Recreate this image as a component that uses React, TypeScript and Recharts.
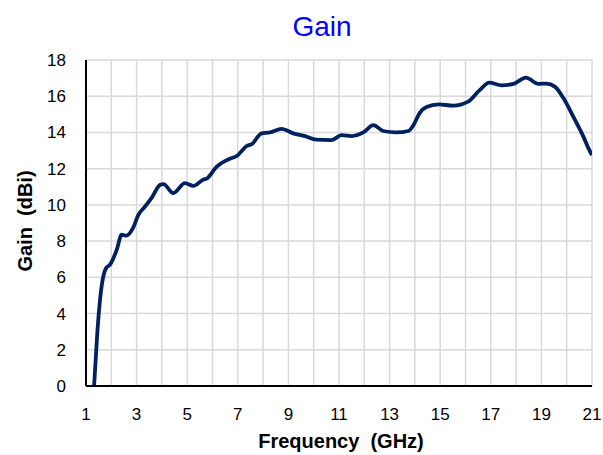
import React from 'react';
import { LineChart, Line, XAxis, YAxis, CartesianGrid } from 'recharts';

const freq = [
  1.32, 1.45, 1.58, 1.79, 1.95, 2.21, 2.41, 2.6, 2.85, 3.07, 3.33, 3.6, 3.92, 4.06,
  4.45, 4.91, 5.24, 5.64, 5.77, 6.16, 6.69, 6.96, 7.35, 7.55, 7.94, 8.27, 8.73,
  9.19, 9.66, 10.1, 10.71, 11.1, 11.5, 11.96, 12.36, 12.75, 13.28, 13.74, 13.94,
  14.2, 14.46, 14.93, 15.52, 16.1, 16.57, 16.94, 17.43, 17.89, 18.39, 18.88,
  19.2, 19.53, 19.87, 20.26, 20.66, 20.86, 21.0,
];

const gain = [
  0, 3.0, 5.1, 6.5, 6.7, 7.5, 8.35, 8.3, 8.7, 9.45, 9.9, 10.4, 11.1, 11.15,
  10.65, 11.2, 11.05, 11.4, 11.45, 12.1, 12.55, 12.7, 13.25, 13.35, 13.95, 14.0, 14.2,
  13.95, 13.8, 13.6, 13.58, 13.85, 13.8, 14.0, 14.4, 14.08, 14.0, 14.08, 14.4,
  15.1, 15.4, 15.55, 15.48, 15.7, 16.35, 16.75, 16.6, 16.68, 17.03, 16.68,
  16.7, 16.53, 15.9, 14.87, 13.77, 13.12, 12.75,
];

const xTicks = [1, 3, 5, 7, 9, 11, 13, 15, 17, 19, 21];
const yTicks = [0, 2, 4, 6, 8, 10, 12, 14, 16, 18];
const xGrid = Array.from({ length: 21 }, (_, i) => i + 1);

const data = freq.map((f, i) => ({ f, g: gain[i] }));

const tickStyle = { fill: '#000', fontSize: 17, fontFamily: 'Liberation Sans, Arial, sans-serif' };
const labelStyle: React.CSSProperties = {
  position: 'absolute',
  fontFamily: 'Liberation Sans, Arial, sans-serif',
  fontWeight: 700,
  fontSize: 20,
  whiteSpace: 'pre',
  color: '#000',
};

export default function App() {
  return (
    <div style={{ position: 'absolute', left: 0, top: 0, width: 603, height: 455, background: '#fff' }}>
      <div
        style={{
          position: 'absolute',
          left: 0,
          width: 644,
          top: 9,
          textAlign: 'center',
          fontFamily: 'Liberation Sans, Arial, sans-serif',
          fontSize: 28,
          color: '#0000ff',
          lineHeight: '36px',
        }}
      >
        Gain
      </div>
      <LineChart
        width={603}
        height={455}
        data={data}
        margin={{ top: 60, right: 11, left: 46, bottom: 39 }}
      >
        <CartesianGrid
          stroke="#d9d9d9"
          strokeWidth={1.5}
          verticalValues={xGrid}
          horizontalValues={yTicks}
        />
        <XAxis
          type="number"
          dataKey="f"
          domain={[1, 21]}
          ticks={xTicks}
          interval={0}
          height={30}
          tickSize={0}
          tickMargin={22}
          tick={tickStyle}
          axisLine={{ stroke: '#000', strokeWidth: 2 }}
          allowDataOverflow
        />
        <YAxis
          type="number"
          domain={[0, 18]}
          ticks={yTicks}
          interval={0}
          width={40}
          tickSize={0}
          tickMargin={20}
          tick={tickStyle}
          axisLine={{ stroke: '#000', strokeWidth: 2 }}
          allowDataOverflow
        />
        <Line
          type="monotone"
          dataKey="g"
          stroke="#002060"
          strokeWidth={3.8}
          dot={false}
          isAnimationActive={false}
        />
      </LineChart>
      <div style={{ ...labelStyle, left: 0, width: 682, top: 427, textAlign: 'center', lineHeight: '28px' }}>
        Frequency  (GHz)
      </div>
      <div
        style={{
          ...labelStyle,
          left: 25,
          top: 221,
          transform: 'translate(-50%, -50%) rotate(-90deg)',
          lineHeight: '24px',
        }}
      >
        Gain  (dBi)
      </div>
    </div>
  );
}
